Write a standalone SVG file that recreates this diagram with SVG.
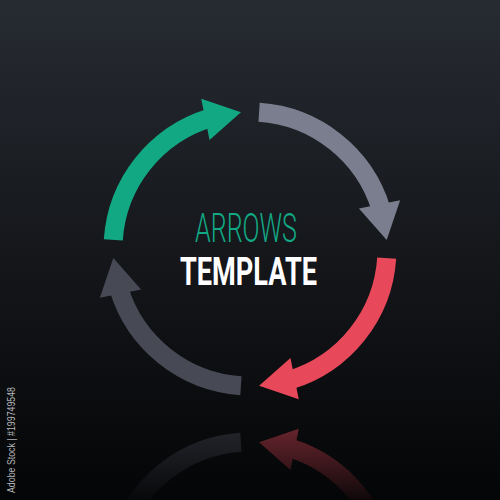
<svg xmlns="http://www.w3.org/2000/svg" xmlns:xlink="http://www.w3.org/1999/xlink" width="500" height="500" viewBox="0 0 500 500">
  <defs>
    <linearGradient id="bg" x1="0" y1="0" x2="0" y2="1">
      <stop offset="0" stop-color="#272b32"/>
      <stop offset="0.5" stop-color="#15171b"/>
      <stop offset="1" stop-color="#040506"/>
    </linearGradient>
    <linearGradient id="fade" gradientUnits="userSpaceOnUse" x1="0" y1="414" x2="0" y2="500">
      <stop offset="0" stop-color="#fff" stop-opacity="0.5"/>
      <stop offset="1" stop-color="#fff" stop-opacity="0.05"/>
    </linearGradient>
    <mask id="reflMask" maskUnits="userSpaceOnUse" x="0" y="414" width="500" height="86">
      <rect x="0" y="414" width="500" height="86" fill="url(#fade)"/>
    </mask>
    <g id="arw">
      <path d="M113.30,239.92 A137,137 0 0 1 209.95,117.99" fill="none" stroke="currentColor" stroke-width="19"/>
      <polygon points="201.25,98.87 240.92,112.30 209.55,140.05" fill="currentColor"/>
    </g>
    <style>
      .t1 { font-family: Roboto, "Liberation Sans", sans-serif; font-weight: 300; font-size: 41px; fill: #13a884; }
      .t2 { font-family: Roboto, "Liberation Sans", sans-serif; font-weight: 700; font-size: 39.5px; fill: #ffffff; }
      .wm { font-family: "Liberation Sans", Arial, sans-serif; font-size: 10px; fill: #b4b6bb; }
    </style>
  </defs>

  <rect x="0" y="0" width="500" height="500" fill="url(#bg)"/>

  <g id="reflection" mask="url(#reflMask)">
    <g transform="translate(0,828) scale(1,-1)">
      <use xlink:href="#arw" href="#arw" color="#e8495a" transform="rotate(180 250 249)"/>
      <use xlink:href="#arw" href="#arw" color="#474a55" transform="rotate(270 250 249)"/>
    </g>
  </g>

  <g id="connectors">
    <g id="arrow-green"><use xlink:href="#arw" href="#arw" color="#13a884"/></g>
    <g id="arrow-gray"><use xlink:href="#arw" href="#arw" color="#7b7e8f" transform="rotate(90 250 249)"/></g>
    <g id="arrow-red"><use xlink:href="#arw" href="#arw" color="#e8495a" transform="rotate(180 250 249)"/></g>
    <g id="arrow-darkgray"><use xlink:href="#arw" href="#arw" color="#474a55" transform="rotate(270 250 249)"/></g>
  </g>

  <g id="title">
    <text class="t1" x="195" y="242" textLength="102" lengthAdjust="spacingAndGlyphs">ARROWS</text>
    <text class="t2" x="180" y="285" textLength="137" lengthAdjust="spacingAndGlyphs">TEMPLATE</text>
  </g>

  <text class="wm" transform="translate(15,493) rotate(-90)" textLength="106" lengthAdjust="spacingAndGlyphs">Adobe Stock | #199749548</text>
</svg>
